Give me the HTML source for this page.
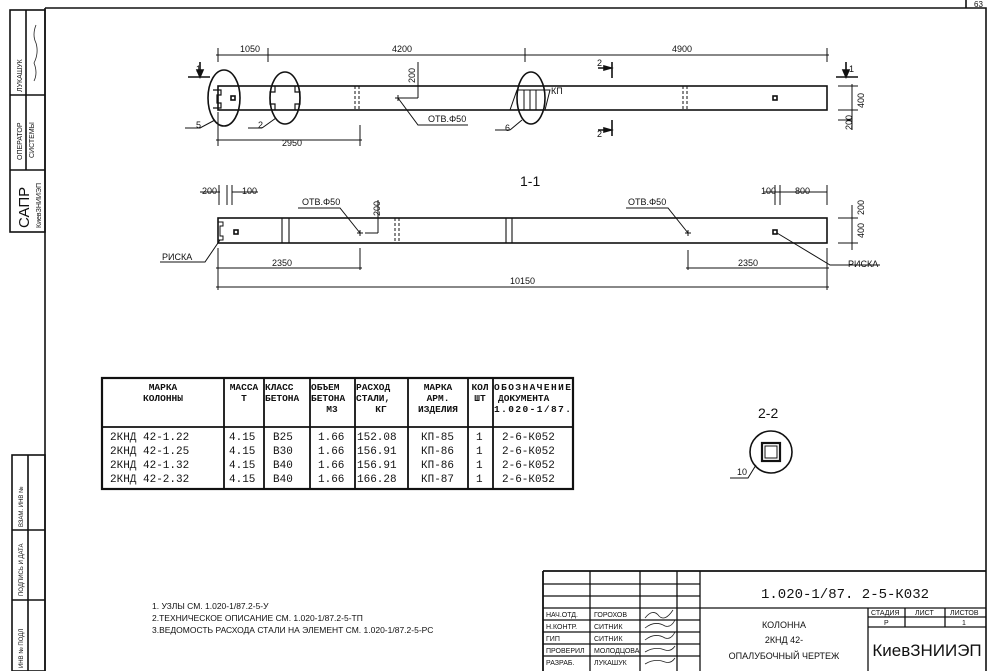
<!DOCTYPE html>
<html><head><meta charset="utf-8"><style>
body{margin:0;background:#fff}
svg{display:block}
text{font-family:"Liberation Sans","DejaVu Sans",sans-serif;fill:#111}
.m text,text.m{font-family:"Liberation Mono","DejaVu Sans Mono",monospace}
</style></head><body>
<svg width="994" height="671" viewBox="0 0 994 671" xmlns="http://www.w3.org/2000/svg">
<g stroke="#111" fill="none" stroke-width="1.6">
<path d="M45 8 H986 V671 M45 8 V671 M966 0 V8"/>
<rect x="10" y="10" width="35" height="222"/>
<path d="M10 95 H45 M10 170 H45 M26 10 V170"/>
<rect x="12" y="455" width="33" height="216"/>
<path d="M12 530 H45 M12 600 H45 M28 455 V671"/>
<rect x="218" y="86" width="609" height="24"/>
<path d="M218 48 V62 M268 48 V62 M525 48 V62 M827 48 V62 M216 55 H829" stroke-width="1"/>
<ellipse cx="224" cy="98" rx="16" ry="28"/>
<ellipse cx="285" cy="98" rx="15" ry="26"/>
<path d="M275 86 v6 h-5 v12 h5 v6 M295 86 v6 h5 v12 h-5 v6" stroke-width="1.2"/>
<path d="M213 90 h8 v5 h-4 v8 h4 v5 h-8" stroke-width="1.2"/>
<rect x="231" y="96" width="4" height="4"/>
<ellipse cx="531" cy="98" rx="14" ry="26"/>
<path d="M517 90 L550 90 L545 110 L510 110 Z M524 90 V110 M530 90 V110 M536 90 V110" stroke-width="1"/>
<path d="M355 86 V110 M359 86 V110 M683 86 V110 M687 86 V110" stroke-width="1" stroke-dasharray="3 2"/>
<rect x="773" y="96" width="4" height="4"/>
<path d="M395 98 h6 M398 95 v6 M400 98 H418 M418 62 V98" stroke-width="1"/>
<path d="M398 98 L418 125 H468 M200 128 L215 120 M200 128 H185 M262 128 L276 118 M262 128 H248 M510 130 L522 120 M510 130 H495" stroke-width="1"/>
<path d="M188 77 H210 M200 62 V76 M836 77 H858 M846 62 V76 M612 62 V78 M612 120 V136 M598 68 H610 M598 130 H610" />
<path d="M197 70 L200 77 L203 70 Z M843 70 L846 77 L849 70 Z M604 66 L611 68 L604 70 Z M604 128 L611 130 L604 132 Z" fill="#111"/>
<path d="M838 86 H858 M838 110 H858 M852 84 V130 M838 120 H852 M218 112 V146 M360 125 V146 M216 140 H362" stroke-width="1"/>
<rect x="218" y="218" width="609" height="25"/>
<path d="M282 218 V243 M289 218 V243 M506 218 V243 M512 218 V243" stroke-width="1.1"/>
<path d="M395 218 V243 M399 218 V243" stroke-width="1" stroke-dasharray="3 2"/>
<path d="M218 222 h5 v4 h-3 v10 h3 v4 h-5" stroke-width="1"/>
<rect x="234" y="230" width="4" height="4"/>
<rect x="773" y="230" width="4" height="4"/>
<path d="M357 233 h6 M360 230 v6 M365 233 H378 M378 200 V233 M685 233 h6 M688 230 v6" stroke-width="1"/>
<path d="M360 233 L340 208 H298 M688 233 L668 208 H626 M220 240 L205 262 H160 M777 233 L830 265 H880" stroke-width="1"/>
<path d="M200 192 H220 M219 185 V205 M227 185 V205 M232 185 V205 M232 192 H258 M764 192 H782 M775 185 V205 M780 185 V205 M780 192 H827 M827 185 V205" stroke-width="1"/>
<path d="M838 218 H858 M838 243 H858 M852 205 V250" stroke-width="1"/>
<path d="M218 248 V290 M360 248 V270 M688 250 V270 M827 248 V290 M216 268 H362 M686 268 H829 M216 287 H829" stroke-width="1"/>
<rect x="102" y="378" width="471" height="111" stroke-width="2.2"/>
<path d="M102 427 H573 M224 378 V489 M264 378 V489 M310 378 V489 M355 378 V489 M408 378 V489 M468 378 V489 M493 378 V489" stroke-width="1.8"/>
<circle cx="771" cy="452" r="21"/>
<rect x="762" y="443" width="18" height="18" stroke-width="2.2"/>
<rect x="765" y="446" width="12" height="12" stroke-width="1"/>
<path d="M756 465 L748 478 H730" stroke-width="1"/>
<path d="M543 571 H986 M543 571 V671" stroke-width="1.8"/>
<path d="M543 584 H700 M543 596 H700 M543 608 H986 M543 620 H700 M543 632 H700 M543 644 H700 M543 656 H700 M590 571 V671 M640 571 V671 M677 571 V671 M700 571 V671 M868 608 V671 M868 617 H986 M868 627 H986 M905 608 V627 M945 608 V627" stroke-width="1.3"/>
</g>
<g font-size="9">
<text x="240" y="52">1050</text><text x="392" y="52">4200</text><text x="672" y="52">4900</text>
<text x="196" y="72">1</text><text x="849" y="72">1</text>
<text x="597" y="66">2</text><text x="597" y="137">2</text>
<text x="551" y="94">КП</text>
<text x="196" y="128">5</text><text x="258" y="128">2</text><text x="505" y="131">6</text>
<text x="428" y="122">ОТВ.Φ50</text>
<text x="282" y="146">2950</text>
<text x="302" y="205">ОТВ.Φ50</text><text x="628" y="205">ОТВ.Φ50</text>
<text x="202" y="194">200</text><text x="242" y="194">100</text>
<text x="761" y="194">100</text><text x="795" y="194">800</text>
<text x="162" y="260">РИСКА</text><text x="848" y="267">РИСКА</text>
<text x="272" y="266">2350</text><text x="738" y="266">2350</text><text x="510" y="284">10150</text>
<text transform="translate(415,83) rotate(-90)">200</text>
<text transform="translate(380,216) rotate(-90)">200</text>
<text transform="translate(864,108) rotate(-90)">400</text>
<text transform="translate(852,130) rotate(-90)">200</text>
<text transform="translate(864,238) rotate(-90)">400</text>
<text transform="translate(864,215) rotate(-90)">200</text>
<text x="737" y="475">10</text>
</g>
<text x="520" y="186" font-size="14">1-1</text>
<text x="758" y="418" font-size="14">2-2</text>
<g class="m" font-size="9.5" font-weight="bold">
<text x="163" y="390" text-anchor="middle">МАРКА</text><text x="163" y="401" text-anchor="middle">КОЛОННЫ</text>
<text x="244" y="390" text-anchor="middle">МАССА</text><text x="244" y="401" text-anchor="middle">Т</text>
<text x="265" y="390">КЛАСС</text><text x="265" y="401">БЕТОНА</text>
<text x="311" y="390">ОБЪЕМ</text><text x="311" y="401">БЕТОНА</text><text x="332" y="412" text-anchor="middle">М3</text>
<text x="356" y="390">РАСХОД</text><text x="356" y="401">СТАЛИ,</text><text x="381" y="412" text-anchor="middle">КГ</text>
<text x="438" y="390" text-anchor="middle">МАРКА</text><text x="438" y="401" text-anchor="middle">АРМ.</text><text x="438" y="412" text-anchor="middle">ИЗДЕЛИЯ</text>
<text x="480" y="390" text-anchor="middle">КОЛ</text><text x="480" y="401" text-anchor="middle">ШТ</text>
<text x="494" y="390" textLength="77">ОБОЗНАЧЕНИЕ</text><text x="498" y="401">ДОКУМЕНТА</text><text x="494" y="412" textLength="77">1.020-1/87.</text>
</g>
<g class="m" font-size="11">
<text x="110" y="440">2КНД 42-1.22</text><text x="110" y="454">2КНД 42-1.25</text><text x="110" y="468">2КНД 42-1.32</text><text x="110" y="482">2КНД 42-2.32</text>
<text x="229" y="440">4.15</text><text x="229" y="454">4.15</text><text x="229" y="468">4.15</text><text x="229" y="482">4.15</text>
<text x="273" y="440">В25</text><text x="273" y="454">В30</text><text x="273" y="468">В40</text><text x="273" y="482">В40</text>
<text x="318" y="440">1.66</text><text x="318" y="454">1.66</text><text x="318" y="468">1.66</text><text x="318" y="482">1.66</text>
<text x="357" y="440">152.08</text><text x="357" y="454">156.91</text><text x="357" y="468">156.91</text><text x="357" y="482">166.28</text>
<text x="421" y="440">КП-85</text><text x="421" y="454">КП-86</text><text x="421" y="468">КП-86</text><text x="421" y="482">КП-87</text>
<text x="476" y="440">1</text><text x="476" y="454">1</text><text x="476" y="468">1</text><text x="476" y="482">1</text>
<text x="502" y="440">2-6-К052</text><text x="502" y="454">2-6-К052</text><text x="502" y="468">2-6-К052</text><text x="502" y="482">2-6-К052</text>
</g>
<g font-size="8.5">
<text x="152" y="609">1. УЗЛЫ СМ. 1.020-1/87.2-5-У</text>
<text x="152" y="621">2.ТЕХНИЧЕСКОЕ ОПИСАНИЕ СМ. 1.020-1/87.2-5-ТП</text>
<text x="152" y="633">3.ВЕДОМОСТЬ РАСХОДА СТАЛИ НА ЭЛЕМЕНТ СМ. 1.020-1/87.2-5-РС</text>
</g>
<g font-size="7">
<text x="546" y="617">НАЧ.ОТД.</text><text x="546" y="629">Н.КОНТР.</text><text x="546" y="641">ГИП</text><text x="546" y="653">ПРОВЕРИЛ</text><text x="546" y="665">РАЗРАБ.</text>
<text x="594" y="617">ГОРОХОВ</text><text x="594" y="629">СИТНИК</text><text x="594" y="641">СИТНИК</text><text x="594" y="653">МОЛОДЦОВА</text><text x="594" y="665">ЛУКАШУК</text>
<text x="871" y="615">СТАДИЯ</text><text x="915" y="615">ЛИСТ</text><text x="950" y="615">ЛИСТОВ</text>
<text x="884" y="625">Р</text><text x="962" y="625">1</text>
</g>
<g fill="none" stroke="#222" stroke-width="0.8">
<path d="M645 618 q8 -10 14 -2 q6 6 14 -6 M645 628 q10 -8 20 -2 q6 2 10 -6 M645 640 q10 -8 20 -2 q6 2 10 -6 M645 652 q10 -6 20 -2 q6 2 10 -4 M645 664 q10 -6 20 -2 q6 2 10 -4"/>
<path d="M36 25 q-4 10 0 18 q3 10 -2 20 q4 10 0 18"/>
</g>
<text x="845" y="598" class="m" font-size="14" text-anchor="middle">1.020-1/87. 2-5-К032</text>
<g font-size="9" text-anchor="middle">
<text x="784" y="628">КОЛОННА</text><text x="784" y="643">2КНД 42-</text><text x="784" y="659">ОПАЛУБОЧНЫЙ ЧЕРТЕЖ</text>
</g>
<text x="927" y="656" font-size="17" text-anchor="middle">КиевЗНИИЭП</text>
<text x="974" y="7" font-size="8">63</text>
<g font-size="7">
<text transform="translate(22,92) rotate(-90)">ЛУКАШУК</text>
<text transform="translate(22,160) rotate(-90)">ОПЕРАТОР</text>
<text transform="translate(34,158) rotate(-90)">СИСТЕМЫ</text>
<text transform="translate(29,228) rotate(-90)" font-size="15">САПР</text>
<text transform="translate(41,228) rotate(-90)">КиевЗНИИЭП</text>
<text transform="translate(23,668) rotate(-90)" font-size="6">ИНВ № ПОДЛ</text>
<text transform="translate(23,596) rotate(-90)" font-size="6">ПОДПИСЬ И ДАТА</text>
<text transform="translate(23,527) rotate(-90)" font-size="6">ВЗАМ. ИНВ №</text>
</g>
</svg>
</body></html>
